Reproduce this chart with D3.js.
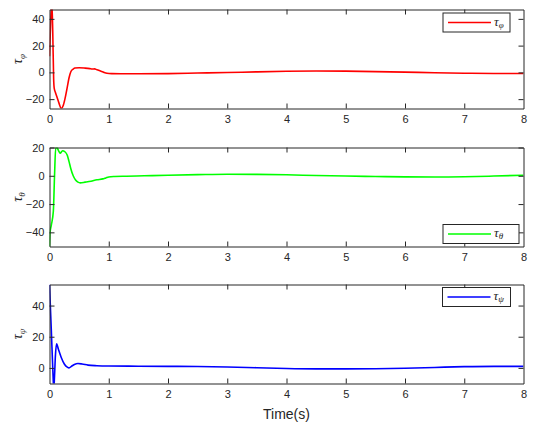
<!DOCTYPE html>
<html>
<head>
<meta charset="utf-8">
<script src="https://cdn.jsdelivr.net/npm/d3@7"></script>
<style>
  body { margin: 0; background: #fff; }
  svg { display: block; }
  text { font-family: "Liberation Sans", Arial, Helvetica, sans-serif; fill: #262626; }
</style>
</head>
<body>
<svg id="chart"></svg>
<script>
// time samples and torque values
const tPhi = [0, 0.02, 0.04, 0.055, 0.07, 0.08, 0.1, 0.13, 0.16, 0.2, 0.23, 0.26, 0.3, 0.33, 0.36, 0.4, 0.43, 0.5, 0.6, 0.68, 0.72, 0.76, 0.8, 0.86, 0.92, 0.97, 1.05, 1.2, 1.5, 2, 2.5, 3, 3.5, 4, 4.5, 5, 5.5, 6, 6.5, 7, 7.5, 8];
const tauPhi = [12, 38, 52, 30, -5, -12, -15, -19, -23, -27, -25, -20, -11, -4, 0.5, 2.5, 3.3, 3.5, 3.2, 2.8, 2.5, 2.6, 2.0, 1.0, 0, -0.6, -0.9, -1, -1, -0.9, -0.5, -0.1, 0.4, 0.8, 1.0, 0.9, 0.6, 0.2, -0.3, -0.6, -0.8, -0.8];

const tTheta = [0, 0.01, 0.03, 0.065, 0.085, 0.105, 0.125, 0.15, 0.18, 0.22, 0.26, 0.3, 0.33, 0.36, 0.4, 0.44, 0.48, 0.52, 0.6, 0.7, 0.8, 0.9, 0.95, 1.0, 1.1, 1.3, 1.6, 2, 2.5, 3, 3.5, 4, 4.5, 5, 5.5, 6, 6.5, 7, 7.5, 8];
const tauTheta = [-50, -40, -35, -25, 0, 20, 20, 18, 16, 17.7, 17, 14.5, 10, 5, 0, -3, -4.5, -5, -4.5, -3.8, -2.8, -2.2, -1.5, -0.8, -0.5, -0.3, 0, 0.4, 0.8, 1.1, 1.0, 0.7, 0.2, -0.2, -0.5, -0.8, -0.9, -0.7, -0.2, 0.4];

const tPsi = [0, 0.03, 0.06, 0.072, 0.085, 0.1, 0.12, 0.15, 0.2, 0.25, 0.3, 0.33, 0.37, 0.42, 0.48, 0.55, 0.65, 0.8, 1, 1.5, 2, 2.5, 3, 3.5, 4, 4.5, 5, 5.5, 6, 6.5, 7, 7.5, 8];
const tauPsi = [53.5, 25, -5, -14, -5, 8, 15.5, 12, 6.5, 2.5, 0.5, 0, 1, 2.2, 2.8, 2.5, 1.8, 1.4, 1.2, 1.1, 1.0, 0.9, 0.6, 0.1, -0.4, -0.6, -0.6, -0.5, -0.2, 0.3, 0.8, 1.0, 1.0];

const xTicks = [0, 1, 2, 3, 4, 5, 6, 7, 8];

const width = 536;
const height = 424;
const x0 = 49.5, x1 = 523.5;

const panels = [
    {t: tPhi, v: tauPhi, sub: "\u03c6", color: "#ff0000", top: 9.5, domain: [-27, 47], ticks: [-20, 0, 20, 40],
     legend: {x: 443, y: 13, w: 67, h: 19}},
    {t: tTheta, v: tauTheta, sub: "\u03b8", color: "#00ff00", top: 147.5, domain: [-50, 20], ticks: [-40, -20, 0, 20],
     legend: {x: 443, y: 224.5, w: 76, h: 19}},
    {t: tPsi, v: tauPsi, sub: "\u03c8", color: "#0000ff", top: 284.5, domain: [-10, 53.5], ticks: [0, 20, 40],
     legend: {x: 442.5, y: 287.5, w: 68, h: 19}}
];
const ph = 99;
const tickLen = 5;

const svg = d3.select("#chart")
    .attr("width", width)
    .attr("height", height)
    .attr("viewBox", [0, 0, width, height]);

const x = d3.scaleLinear().domain([0, 8]).range([x0, x1]);

panels.forEach((p, i) => {
    const y = d3.scaleLinear().domain(p.domain).range([p.top + ph, p.top]);
    const g = svg.append("g");

    g.append("clipPath").attr("id", "clip" + i)
        .append("rect").attr("x", x0).attr("y", p.top).attr("width", x1 - x0).attr("height", ph);

    const line = d3.line()
        .x((d, j) => x(p.t[j]))
        .y(d => y(d))
        .curve(d3.curveMonotoneX);

    g.append("path")
        .datum(p.v)
        .attr("clip-path", `url(#clip${i})`)
        .attr("fill", "none")
        .attr("stroke", p.color)
        .attr("stroke-width", 1.6)
        .attr("d", line);

    // box axes, ticks pointing inward on every side
    const bottom = g.append("g").attr("transform", `translate(0,${p.top + ph})`)
        .call(d3.axisBottom(x).tickValues(xTicks).tickSizeInner(-tickLen).tickSizeOuter(0).tickPadding(7));
    const topAx = g.append("g").attr("transform", `translate(0,${p.top})`)
        .call(d3.axisTop(x).tickValues(xTicks).tickSizeInner(-tickLen).tickSizeOuter(0).tickFormat(""));
    const left = g.append("g").attr("transform", `translate(${x0},0)`)
        .call(d3.axisLeft(y).tickValues(p.ticks).tickSizeInner(-tickLen).tickSizeOuter(0).tickPadding(5));
    const right = g.append("g").attr("transform", `translate(${x1},0)`)
        .call(d3.axisRight(y).tickValues(p.ticks).tickSizeInner(-tickLen).tickSizeOuter(0).tickFormat(""));

    [bottom, topAx, left, right].forEach(a => {
        a.select(".domain").attr("stroke", "#262626");
        a.selectAll(".tick line").attr("stroke", "#262626");
        a.selectAll("text").attr("font-size", 11).attr("fill", "#262626");
    });
    bottom.selectAll(".tick").filter(d => d === 0 || d === 8).select("line").remove();
    topAx.selectAll(".tick").filter(d => d === 0 || d === 8).select("line").remove();

    // y label
    const yl = g.append("text")
        .attr("transform", `translate(22,${p.top + ph / 2}) rotate(-90)`)
        .attr("text-anchor", "middle");
    yl.append("tspan").attr("font-size", 14).attr("font-style", "italic")
        .attr("font-family", "'Liberation Serif', serif").text("\u03c4");
    yl.append("tspan").attr("font-size", 9).attr("dy", 3).attr("font-style", "italic")
        .attr("font-family", "'Liberation Serif', serif").text(p.sub);

    // legend
    const L = p.legend;
    const lg = g.append("g");
    lg.append("rect").attr("x", L.x).attr("y", L.y).attr("width", L.w).attr("height", L.h)
        .attr("fill", "#fff").attr("stroke", "#262626").attr("stroke-width", 1);
    lg.append("line").attr("x1", L.x + 5).attr("x2", L.x + 48)
        .attr("y1", L.y + L.h / 2).attr("y2", L.y + L.h / 2)
        .attr("stroke", p.color).attr("stroke-width", 1.6);
    const lt = lg.append("text").attr("x", L.x + 51).attr("y", L.y + L.h / 2 + 3);
    lt.append("tspan").attr("font-size", 13).attr("font-style", "italic")
        .attr("font-family", "'Liberation Serif', serif").text("\u03c4");
    lt.append("tspan").attr("font-size", 9).attr("dy", 2).attr("font-style", "italic")
        .attr("font-family", "'Liberation Serif', serif").text(p.sub);
});

svg.append("text")
    .attr("x", (x0 + x1) / 2)
    .attr("y", 419)
    .attr("text-anchor", "middle")
    .attr("font-size", 14)
    .text("Time(s)");
</script>
</body>
</html>
